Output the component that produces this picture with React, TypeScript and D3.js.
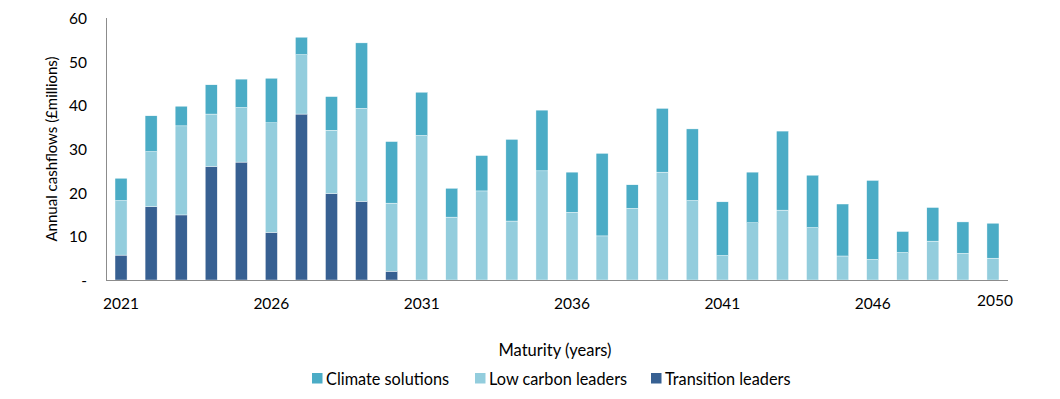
import React from "react";
import * as d3 from "d3";

const years: number[] = [
  2021, 2022, 2023, 2024, 2025, 2026, 2027, 2028, 2029, 2030,
  2031, 2032, 2033, 2034, 2035, 2036, 2037, 2038, 2039, 2040,
  2041, 2042, 2043, 2044, 2045, 2046, 2047, 2048, 2049, 2050,
];
const transitionLeaders: number[] = [
  5.7, 16.8, 14.9, 26.0, 27.0, 10.9, 38.0, 19.8, 18.0, 2.0,
  0, 0, 0, 0, 0, 0, 0, 0, 0, 0,
  0, 0, 0, 0, 0, 0, 0, 0, 0, 0,
];
const lowCarbonLeaders: number[] = [
  12.5, 12.6, 20.4, 12.0, 12.5, 25.1, 13.6, 14.5, 21.3, 15.6,
  33.1, 14.4, 20.4, 13.5, 25.0, 15.5, 10.1, 16.4, 24.7, 18.2,
  5.6, 13.1, 16.0, 12.0, 5.5, 4.7, 6.3, 8.9, 6.1, 5.0,
];
const climateSolutions: number[] = [
  5.1, 8.2, 4.5, 6.7, 6.5, 10.2, 4.0, 7.7, 15.0, 14.1,
  9.9, 6.6, 8.1, 18.7, 13.9, 9.2, 18.9, 5.4, 14.6, 16.4,
  12.3, 11.6, 18.1, 12.0, 11.9, 18.1, 4.8, 7.7, 7.2, 8.0,
];
const seriesNames: string[] = ["Climate solutions", "Low carbon leaders", "Transition leaders"];
const yTicks: number[] = [0, 10, 20, 30, 40, 50, 60];
const xTickYears: number[] = [2021, 2026, 2031, 2036, 2041, 2046, 2050];

const colors: Record<string, string> = {
  "Transition leaders": "#376092",
  "Low carbon leaders": "#93CDDD",
  "Climate solutions": "#4BACC6",
};

const FONT = "Lato, 'Open Sans', sans-serif";

export default function App() {
  const width = 1060;
  const height = 399;
  const x = d3
    .scaleBand<number>()
    .domain(years)
    .range([106, 1008])
    .paddingInner(0.6)
    .paddingOuter(0.3);
  const y = d3.scaleLinear().domain([0, 60]).range([280, 18]);

  const rows = years.map((yr, i) => ({
    year: yr,
    "Transition leaders": transitionLeaders[i],
    "Low carbon leaders": lowCarbonLeaders[i],
    "Climate solutions": climateSolutions[i],
  }));
  const stack = d3
    .stack<any>()
    .keys(["Transition leaders", "Low carbon leaders", "Climate solutions"]);
  const stacked = stack(rows);

  const legendItems = [
    { name: seriesNames[0], x: 312 },
    { name: seriesNames[1], x: 475 },
    { name: seriesNames[2], x: 651 },
  ];

  return (
    <svg
      width={width}
      height={height}
      style={{ position: "absolute", left: 0, top: 0, background: "#fff" }}
      fontFamily={FONT}
    >
      {stacked.map((layer) => (
        <g key={layer.key} fill={colors[layer.key]}>
          {layer.map((d, i) => {
            const h = y(d[0]) - y(d[1]);
            if (h <= 0) return null;
            return (
              <rect
                key={i}
                x={x(years[i])!}
                y={y(d[1])}
                width={x.bandwidth()}
                height={h}
                stroke="#ffffff"
                strokeWidth={0.4}
              />
            );
          })}
        </g>
      ))}

      {/* axes */}
      <line x1={106.5} x2={106.5} y1={18} y2={280} stroke="#8c8c8c" strokeWidth={1} />
      <line x1={106} x2={1008} y1={280.5} y2={280.5} stroke="#8c8c8c" strokeWidth={1} />

      {yTicks.map((t) => (
        <text
          key={t}
          x={87}
          y={y(t)}
          textAnchor="end"
          dominantBaseline="central"
          fontSize={15.5}
          fill="#000"
        >
          {t === 0 ? "-" : t}
        </text>
      ))}

      {xTickYears.map((yr) => (
        <text
          key={yr}
          x={x(yr)! + x.bandwidth() / 2 + (yr === 2050 ? 2 : 0)}
          y={yr === 2050 ? 300 : 302.5}
          textAnchor="middle"
          dominantBaseline="central"
          fontSize={15.5}
          fill="#000"
        >
          {yr}
        </text>
      ))}

      <text
        transform="translate(51,149) rotate(-90)"
        textAnchor="middle"
        dominantBaseline="central"
        fontSize={15}
        fill="#000"
      >
        Annual cashflows (£millions)
      </text>

      <text x={555} y={350} textAnchor="middle" dominantBaseline="central" fontSize={16.5} fill="#000">
        Maturity (years)
      </text>

      {legendItems.map((it) => (
        <g key={it.name}>
          <rect x={it.x} y={373} width={10.5} height={10.5} fill={colors[it.name]} />
          <text x={it.x + 14} y={378.5} dominantBaseline="central" fontSize={16.3} fill="#000">
            {it.name}
          </text>
        </g>
      ))}
    </svg>
  );
}
